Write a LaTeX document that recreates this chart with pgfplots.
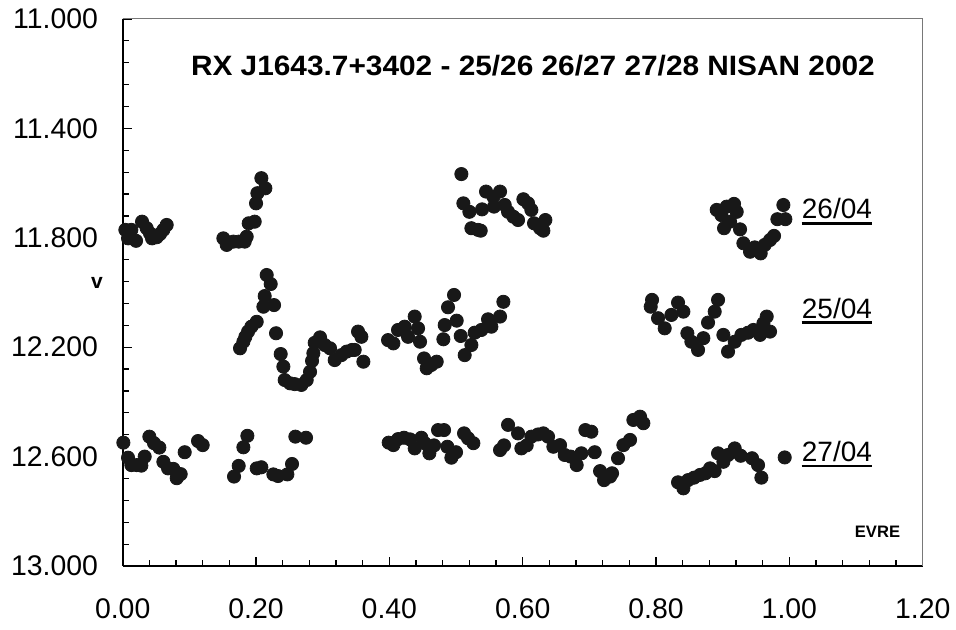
\documentclass[border=0pt]{standalone}
\usepackage{pgfplots}
\pgfplotsset{compat=1.18}
\usepackage{fontspec}
\setmainfont{Liberation Sans}
\definecolor{dotcol}{RGB}{24,24,24}
\definecolor{framegray}{RGB}{120,120,120}
\pgfplotsset{dots/.style={only marks, mark=*, mark size=3.3pt,
    mark options={draw=dotcol, fill=dotcol}}}

\begin{document}
\begin{tikzpicture}
\useasboundingbox (-61.35pt,-32pt) rectangle (416.65pt,283pt);
\begin{axis}[
  at={(0,0)}, anchor=south west,
  scale only axis, width=400pt, height=273.5pt,
  xmin=0, xmax=1.2, ymin=11, ymax=13,
  y dir=reverse,
  xtick={0,0.2,0.4,0.6,0.8,1.0,1.2},
  ytick={11,11.4,11.8,12.2,12.6,13},
  xticklabels={},
  minor x tick num=4, minor y tick num=4,
  axis x line*=bottom, axis y line*=left,
  axis line style={black, line width=1pt},
  tick align=inside,
  major tick length=4.5pt, minor tick length=3.2pt,
  every tick/.style={black, line width=0.6pt},
  yticklabel={\pgfmathprintnumber[fixed,fixed zerofill,precision=3,assume math mode=true]{\tick}},
  clip=false,
  tick label style={font=\fontsize{14.2}{16}\selectfont, inner sep=0pt},
  every y tick label/.append style={anchor=east, xshift=-12.2pt},
]
% 26/04
\addplot[dots] coordinates {
(0.004,11.771) (0.008,11.802) (0.013,11.771) (0.020,11.811) (0.029,11.741)
(0.036,11.765) (0.041,11.784) (0.044,11.802) (0.051,11.798) (0.056,11.786)
(0.061,11.771) (0.066,11.753)
(0.151,11.802) (0.156,11.826) (0.166,11.814) (0.174,11.814) (0.183,11.814)
(0.186,11.796) (0.189,11.747) (0.198,11.741) (0.200,11.674) (0.202,11.637)
(0.208,11.582) (0.214,11.619)
(0.508,11.567) (0.511,11.674) (0.520,11.705) (0.523,11.765) (0.533,11.771)
(0.537,11.774) (0.539,11.696) (0.545,11.631) (0.556,11.650) (0.557,11.686)
(0.566,11.631) (0.573,11.680) (0.578,11.705) (0.586,11.723) (0.593,11.735)
(0.601,11.659) (0.608,11.674) (0.613,11.698) (0.617,11.747) (0.626,11.765)
(0.631,11.774) (0.634,11.735)
(0.891,11.698) (0.898,11.717) (0.902,11.765) (0.906,11.686) (0.911,11.741)
(0.917,11.676) (0.921,11.705) (0.926,11.769) (0.931,11.820) (0.941,11.851)
(0.948,11.835) (0.957,11.857) (0.963,11.826) (0.971,11.808) (0.977,11.793)
(0.982,11.732) (0.991,11.680) (0.994,11.732)
};
% 25/04
\addplot[dots] coordinates {
(0.176,12.204) (0.181,12.180) (0.184,12.162) (0.188,12.143) (0.193,12.125)
(0.201,12.107) (0.211,12.052) (0.213,12.013) (0.216,11.936) (0.222,11.969)
(0.227,12.046) (0.230,12.149) (0.237,12.225) (0.241,12.271) (0.243,12.320)
(0.251,12.332) (0.258,12.335) (0.268,12.338) (0.276,12.320) (0.281,12.290)
(0.284,12.250) (0.286,12.222) (0.288,12.184) (0.296,12.164) (0.303,12.192)
(0.311,12.204) (0.318,12.247) (0.328,12.229) (0.336,12.216) (0.344,12.210)
(0.348,12.210) (0.353,12.143) (0.358,12.162) (0.361,12.253)
(0.398,12.174) (0.406,12.186) (0.413,12.137) (0.423,12.125) (0.428,12.162)
(0.438,12.088) (0.443,12.131) (0.446,12.180) (0.452,12.241) (0.456,12.277)
(0.463,12.265) (0.471,12.253) (0.481,12.171) (0.483,12.119) (0.488,12.054)
(0.497,12.009) (0.501,12.103) (0.507,12.159) (0.513,12.229) (0.523,12.192)
(0.528,12.147) (0.538,12.137) (0.548,12.098) (0.553,12.125) (0.566,12.088)
(0.571,12.034)
(0.792,12.052) (0.794,12.027) (0.803,12.094) (0.813,12.131) (0.823,12.082)
(0.833,12.037) (0.841,12.070) (0.847,12.149) (0.853,12.180) (0.863,12.210)
(0.871,12.167) (0.878,12.110) (0.888,12.070) (0.893,12.027) (0.901,12.155)
(0.908,12.216) (0.918,12.180) (0.928,12.155) (0.938,12.147) (0.946,12.137)
(0.956,12.155) (0.961,12.113) (0.966,12.088) (0.971,12.143)
};
% 27/04
\addplot[dots] coordinates {
(0.001,12.549) (0.008,12.604) (0.013,12.631) (0.021,12.631) (0.028,12.633)
(0.033,12.600) (0.040,12.527) (0.047,12.551) (0.055,12.567) (0.061,12.619)
(0.068,12.643) (0.076,12.645) (0.081,12.679) (0.087,12.664) (0.093,12.584)
(0.113,12.543) (0.120,12.558)
(0.167,12.673) (0.174,12.634) (0.181,12.566) (0.187,12.524) (0.201,12.643)
(0.208,12.639) (0.226,12.665) (0.233,12.671) (0.247,12.665) (0.254,12.627)
(0.259,12.527) (0.275,12.531)
(0.399,12.549) (0.406,12.558) (0.413,12.536) (0.422,12.531) (0.431,12.537)
(0.438,12.570) (0.448,12.531) (0.453,12.551) (0.460,12.588) (0.467,12.559)
(0.473,12.503) (0.482,12.503) (0.487,12.564) (0.493,12.604) (0.500,12.584)
(0.512,12.515) (0.518,12.533) (0.526,12.551)
(0.566,12.576) (0.572,12.559) (0.578,12.484) (0.593,12.515) (0.598,12.570)
(0.606,12.559) (0.613,12.527) (0.623,12.519) (0.631,12.515) (0.638,12.527)
(0.646,12.564) (0.656,12.558) (0.663,12.594) (0.672,12.600) (0.681,12.631)
(0.688,12.588) (0.694,12.503) (0.703,12.509) (0.708,12.584) (0.716,12.653)
(0.722,12.686) (0.731,12.673) (0.734,12.661) (0.743,12.606) (0.751,12.558)
(0.761,12.539) (0.766,12.466) (0.776,12.454) (0.781,12.478)
(0.833,12.694) (0.841,12.716) (0.848,12.686) (0.857,12.677) (0.866,12.667)
(0.874,12.661) (0.881,12.643) (0.888,12.653) (0.893,12.588) (0.901,12.619)
(0.908,12.594) (0.918,12.570) (0.927,12.597) (0.944,12.606) (0.953,12.631)
(0.958,12.677) (0.993,12.603)
};
\end{axis}
% x tick labels, set below the axis by hand
\foreach \v [count=\i from 0] in {0.00,0.20,0.40,0.60,0.80,1.00,1.20}
  \node[anchor=north, inner sep=0pt, font=\fontsize{14.2}{16}\selectfont]
    at (\i*66.667pt,-16.2pt) {\v};
% top and right frame lines
\draw[framegray, line width=0.5pt] (0,273.5pt) -- (400pt,273.5pt) -- (400pt,0);
% title
\node[anchor=base, inner sep=0pt] at (205.15pt,245pt)
  {\scalebox{1.065}[1]{\fontsize{14}{16}\selectfont\bfseries RX J1643.7+3402 - 25/26 26/27 27/28 NISAN 2002}};
% y axis label
\node[inner sep=0pt] at (-12.85pt,141.75pt) {\fontsize{10.5}{12}\selectfont\bfseries v};
% day labels
\node[anchor=base west, inner sep=0pt] (d26) at (339.4pt,173.5pt) {\fontsize{14}{16}\selectfont 26/04};
\node[anchor=base west, inner sep=0pt] (d25) at (339.4pt,123.85pt) {\fontsize{14}{16}\selectfont 25/04};
\node[anchor=base west, inner sep=0pt] (d27) at (339.4pt,52.15pt) {\fontsize{14}{16}\selectfont 27/04};
\foreach \d in {d26,d25,d27}
  \draw[black, line width=1.4pt] ([yshift=-2.2pt]\d.base west) -- ([yshift=-2.2pt]\d.base east);
% credit
\node[inner sep=0pt] at (377.4pt,17pt) {\fontsize{8.3}{10}\selectfont\bfseries EVRE};
\end{tikzpicture}
\end{document}
